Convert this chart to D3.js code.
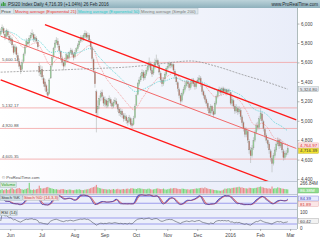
<!DOCTYPE html>
<html>
<head>
<meta charset="utf-8">
<script src="https://cdn.jsdelivr.net/npm/d3@7"></script>
<style>
  body { margin: 0; background: #fff; }
  svg { display: block; font-family: "Liberation Sans", Arial, sans-serif; }
</style>
</head>
<body>
<div id="chart"></div>
<script>
// PSI20 daily candles, 21 May 2015 - 26 Feb 2016
const closes = [5920,5960,5900,5860,5930,5880,5830,5850,5780,5700,5760,5680,5620,5560,5520,5600,5680,5760,5820,5790,
  5850,5880,5900,5840,5860,5820,5760,5500,5520,5450,5380,5350,5300,5260,5420,5560,5650,5740,5800,5830,
  5780,5720,5650,5600,5560,5620,5680,5640,5700,5720,5680,5650,5700,5740,5780,5820,5860,5840,5880,5900,
  5860,5880,5830,5760,5640,5520,5380,5080,5150,5230,5280,5250,5180,5220,5160,5200,5230,5180,5150,5190,
  5210,5170,5120,5080,5100,5060,5020,5050,5000,4980,5030,4960,4950,5020,5150,5260,5380,5420,5460,5500,
  5440,5480,5520,5560,5600,5520,5480,5560,5600,5620,5580,5500,5420,5380,5420,5480,5540,5560,5590,5570,
  5580,5520,5460,5400,5330,5260,5200,5280,5320,5360,5400,5380,5340,5380,5420,5380,5350,5400,5420,5440,
  5380,5300,5260,5220,5180,5130,5080,5150,5100,5060,5180,5250,5300,5320,5290,5330,5300,5320,5290,5310,
  5310,5180,5220,5150,5100,5140,5090,5120,5040,4980,4920,4860,4900,4800,4700,4640,4720,4800,4880,4950,
  4930,5020,5080,5000,4920,4850,4800,4760,4700,4620,4560,4640,4700,4760,4800,4740,4780,4700,4620,4660,
  4668,4716.39];
const opens = [5890,5930,5950,5890,5870,5920,5870,5820,5840,5770,5710,5750,5670,5610,5570,5530,5610,5690,5770,5810,
  5800,5850,5880,5890,5840,5850,5810,5560,5480,5530,5440,5400,5360,5290,5280,5440,5570,5660,5750,5800,
  5820,5770,5710,5640,5600,5570,5630,5670,5650,5700,5720,5680,5660,5710,5740,5780,5820,5860,5840,5870,
  5900,5860,5880,5820,5750,5630,5500,5300,5120,5160,5240,5290,5240,5170,5210,5150,5200,5220,5180,5150,
  5190,5200,5170,5120,5070,5100,5060,5020,5040,5000,4990,5020,4970,4960,5030,5160,5270,5380,5420,5460,
  5500,5440,5480,5520,5560,5590,5520,5490,5550,5600,5620,5570,5490,5420,5380,5430,5480,5540,5560,5590,
  5560,5580,5510,5450,5390,5320,5260,5210,5280,5320,5360,5400,5380,5340,5380,5420,5380,5350,5400,5420,
  5440,5370,5300,5260,5220,5180,5130,5080,5150,5100,5070,5180,5250,5300,5320,5290,5330,5300,5320,5290,
  5310,5290,5180,5210,5150,5100,5130,5090,5110,5040,4980,4920,4860,4890,4790,4700,4640,4720,4800,4880,
  4950,4930,5020,5070,4990,4910,4850,4800,4760,4690,4610,4560,4640,4700,4760,4800,4740,4770,4690,4620,
  4650,4670];
const highs = [5950,5990,5970,5910,5950,5940,5890,5880,5860,5790,5790,5770,5700,5640,5590,5630,5700,5780,5850,5840,
  5880,5910,5940,5910,5890,5870,5830,5600,5570,5560,5470,5430,5380,5330,5440,5580,5680,5760,5830,5860,
  5850,5790,5730,5670,5620,5650,5700,5690,5720,5750,5740,5700,5730,5760,5800,5840,5880,5880,5900,5930,
  5920,5910,5900,5840,5770,5650,5520,5320,5210,5260,5310,5320,5260,5250,5230,5230,5260,5240,5200,5220,
  5240,5230,5180,5140,5130,5120,5080,5080,5060,5030,5060,5040,5000,5050,5170,5280,5400,5450,5490,5530,
  5520,5510,5550,5590,5650,5610,5540,5590,5640,5680,5640,5590,5510,5450,5450,5500,5560,5590,5610,5600,
  5610,5590,5530,5470,5410,5340,5280,5300,5350,5390,5420,5420,5400,5410,5440,5440,5400,5420,5450,5470,
  5460,5390,5320,5280,5240,5200,5150,5170,5160,5120,5200,5270,5320,5350,5340,5350,5350,5340,5330,5330,
  5330,5300,5250,5230,5170,5170,5150,5150,5130,5060,5000,4940,4930,4910,4810,4730,4750,4830,4900,4980,
  4990,5050,5132,5090,5010,4930,4870,4820,4780,4710,4630,4670,4730,4790,4830,4820,4810,4790,4710,4690,
  4700,4740];
const lows = [5870,5910,5880,5830,5850,5860,5800,5790,5750,5680,5690,5650,5590,5530,5480,5510,5590,5670,5750,5760,
  5780,5830,5860,5810,5810,5790,5730,5460,5450,5420,5350,5310,5270,5244,5270,5430,5550,5640,5730,5780,
  5750,5690,5620,5570,5520,5550,5610,5610,5630,5680,5660,5620,5640,5690,5720,5760,5800,5810,5820,5850,
  5840,5840,5800,5730,5610,5490,5340,4880,5050,5120,5200,5210,5150,5140,5130,5130,5180,5150,5120,5130,
  5170,5140,5090,5050,5040,5030,4990,5000,4970,4950,4970,4940,4921,4950,5020,5150,5260,5360,5400,5440,
  5410,5420,5460,5500,5540,5490,5450,5470,5530,5580,5550,5470,5390,5350,5360,5410,5460,5520,5540,5540,
  5540,5490,5430,5370,5300,5230,5170,5190,5260,5300,5340,5350,5310,5320,5360,5350,5320,5330,5380,5400,
  5350,5270,5230,5190,5150,5100,5050,5060,5070,5030,5060,5160,5230,5280,5260,5270,5280,5280,5260,5270,
  5280,5160,5150,5120,5070,5080,5060,5070,5010,4950,4890,4830,4830,4770,4660,4565,4620,4700,4780,4860,
  4900,4910,5000,4970,4890,4820,4770,4720,4660,4580,4470,4540,4620,4680,4740,4710,4720,4670,4590,4600,
  4630,4650];
const volumes = [180,210,160,190,220,170,200,240,260,210,190,230,250,270,220,200,180,210,230,260,
  520,190,170,200,180,210,230,380,260,240,250,270,300,320,280,260,240,220,200,210,
  190,180,200,220,210,190,170,180,200,190,170,160,180,200,190,210,180,170,160,190,
  200,210,230,260,290,310,340,420,300,270,250,230,210,220,200,190,210,180,200,220,
  190,210,230,200,190,210,220,200,230,240,210,250,260,240,230,220,250,260,240,230,
  210,220,200,230,240,210,190,200,220,240,250,230,210,220,240,200,190,210,230,250,
  240,260,270,250,230,220,210,240,230,220,200,210,190,200,220,210,230,250,240,260,
  270,280,250,300,260,240,220,210,200,180,170,160,150,140,130,150,190,240,230,250,
  260,240,270,280,290,300,310,330,290,300,270,260,250,240,280,270,260,250,270,280,
  300,320,340,310,290,270,260,240,250,230,340,240,260,250,300,280,260,240,230,220,
  210,200];

// 200-day simple average, read at a few dates
const sma200Dates = ["2015-05-21","2015-07-01","2015-08-14","2015-09-25","2015-10-28","2015-11-24","2015-12-18","2016-01-12","2016-02-05","2016-02-26"];
const sma200Values = [5500,5515,5535,5555,5590,5615,5560,5480,5400,5324.8];

// trend channel (start date, start price, end date, end price)
const channelNames = ["upper","middle","lower"];
const channelFrom = [["2015-07-03",5990],["2015-05-21",5870],["2015-05-21",5420]];
const channelTo = [["2016-03-07",5010],["2016-03-07",4715],["2016-03-07",4265]];

// horizontal levels
const levels = [5600.14, 5132.17, 4920.88, 4605.35];
const priceTicks = [4400,4600,4800,5000,5200,5400,5600,5800,6000];
const monthNames = ["Jun","Jul","Aug","Sep","Oct","Nov","Dec","2016","Feb","Mar"];

const W = 320, H = 240, plotR = 297;
const pTop = 8, pBot = 181, vTop = 181, vBot = 194, sTop = 194, sBot = 209, rTop = 209, rBot = 229;

const parseDate = d3.timeParse("%Y-%m-%d");
const allDays = d3.timeDay.range(parseDate("2015-05-21"), parseDate("2016-03-08"))
  .filter(d => d.getDay() % 6 !== 0);
const days = allDays.slice(0, closes.length);
const candles = days.map((d, i) => ({date: d, o: opens[i], h: highs[i], l: lows[i], c: closes[i], v: volumes[i]}));

const x = d3.scaleBand().domain(allDays).range([0, plotR]).paddingInner(0.22).paddingOuter(0.1);
const cx = d => x(d) + x.bandwidth() / 2;
const y = d3.scaleLinear().domain([4380, 6160]).range([pBot, pTop]);
const yVol = d3.scaleLinear().domain([0, 560]).range([vBot - 0.5, vTop + 1]);
const yStoch = d3.scaleLinear().domain([0, 100]).range([sBot - 3.5, sTop + 0.3]);
const yRsi = d3.scaleLinear().domain([0, 100]).range([rBot - 0.5, rTop + 4.5]);

// indicators
function ema(vals, n) {
  const k = 2 / (n + 1), out = [];
  vals.forEach((v, i) => out.push(i ? v * k + out[i - 1] * (1 - k) : v));
  return out;
}
function sma(vals, n) {
  return vals.map((v, i) => d3.mean(vals.slice(Math.max(0, i - n + 1), i + 1)));
}
const ema21 = ema(closes, 21), ema50 = ema(closes, 50);
const rawK = closes.map((c, i) => {
  const j = Math.max(0, i - 13);
  const hh = d3.max(highs.slice(j, i + 1)), ll = d3.min(lows.slice(j, i + 1));
  return hh === ll ? 50 : 100 * (c - ll) / (hh - ll);
});
const stochK = sma(rawK, 3), stochD = sma(stochK, 3);
const rsi = [];
let ag = 0, al = 0;
closes.forEach((c, i) => {
  if (i === 0) { rsi.push(50); return; }
  const ch = c - closes[i - 1];
  const g = Math.max(ch, 0), l = Math.max(-ch, 0);
  if (i === 1) { ag = g; al = l; } else { ag = (ag * 13 + g) / 14; al = (al * 13 + l) / 14; }
  rsi.push(al === 0 ? 100 : 100 - 100 / (1 + ag / al));
});

const svg = d3.select("#chart").append("svg").attr("width", W).attr("height", H);
const defs = svg.append("defs");

const bgGrad = defs.append("linearGradient").attr("id", "bg").attr("x1", 0).attr("x2", 1).attr("y1", 0).attr("y2", 0);
bgGrad.append("stop").attr("offset", 0).attr("stop-color", "#ffffff");
bgGrad.append("stop").attr("offset", 1).attr("stop-color", "#e9edf9");
const hdGrad = defs.append("linearGradient").attr("id", "hd").attr("x1", 0).attr("x2", 0).attr("y1", 0).attr("y2", 1);
hdGrad.append("stop").attr("offset", 0).attr("stop-color", "#bcd3da");
hdGrad.append("stop").attr("offset", 1).attr("stop-color", "#8eb0bc");

defs.append("clipPath").attr("id", "clipP").append("rect").attr("x", 0).attr("y", pTop).attr("width", plotR).attr("height", pBot - pTop);

// panel backgrounds
svg.append("rect").attr("width", W).attr("height", H).attr("fill", "#fff");
svg.append("rect").attr("x", 0).attr("y", pTop).attr("width", plotR).attr("height", pBot - pTop).attr("fill", "url(#bg)");
[[vTop, vBot], [sTop, sBot], [rTop, rBot]].forEach(([a, b]) => {
  svg.append("rect").attr("x", 0).attr("y", a).attr("width", plotR).attr("height", b - a).attr("fill", "#eceffa");
});
[pBot, vBot, sBot, rBot].forEach(v => {
  svg.append("line").attr("x1", 0).attr("x2", plotR).attr("y1", v + 0.5).attr("y2", v + 0.5).attr("stroke", "#b4bccc").attr("stroke-width", 0.8);
});

// price panel
const gP = svg.append("g").attr("clip-path", "url(#clipP)");

gP.selectAll(".lvl").data(levels).join("line")
  .attr("x1", 0).attr("x2", plotR).attr("y1", d => y(d)).attr("y2", d => y(d))
  .attr("stroke", "#f2a2a2").attr("stroke-width", 0.8);
gP.selectAll(".lvlt").data(levels).join("text")
  .attr("x", 2).attr("y", d => y(d) - 1.2)
  .attr("font-size", 4.3).attr("fill", "#555")
  .text(d => d3.format(",.2f")(d));

// candles
const gC = gP.append("g");
gC.selectAll(".wick").data(candles).join("line")
  .attr("x1", d => cx(d.date)).attr("x2", d => cx(d.date))
  .attr("y1", d => y(d.h)).attr("y2", d => y(d.l))
  .attr("stroke", "#a4a8a4").attr("stroke-width", 0.5);
gC.selectAll(".body").data(candles).join("rect")
  .attr("x", d => x(d.date)).attr("width", x.bandwidth())
  .attr("y", d => y(Math.max(d.o, d.c)))
  .attr("height", d => Math.max(0.6, Math.abs(y(d.o) - y(d.c))))
  .attr("fill", d => d.c >= d.o ? "#8fd18f" : "#b86a5a")
  .attr("stroke", "#9aa09a").attr("stroke-width", 0.3);

// moving averages
const lineP = vals => d3.line().x((v, i) => cx(days[i])).y(v => y(v))(vals);
gP.append("path").attr("d", lineP(ema21)).attr("fill", "none")
  .attr("stroke", "#f08080").attr("stroke-width", 0.7).attr("stroke-dasharray", "1,1");
gP.append("path").attr("d", lineP(ema50)).attr("fill", "none")
  .attr("stroke", "#35cccc").attr("stroke-width", 0.7).attr("stroke-dasharray", "1,1");
const smaPts = sma200Dates.map((d, i) => [parseDate(d), sma200Values[i]]);
gP.append("path")
  .attr("d", d3.line().curve(d3.curveMonotoneX).x(d => cx(d3.timeDay.floor(d[0]))).y(d => y(d[1]))(smaPts))
  .attr("fill", "none").attr("stroke", "#8a8a8a").attr("stroke-width", 0.7).attr("stroke-dasharray", "2,1.2");

// channel lines
channelNames.forEach((n, i) => {
  const a = channelFrom[i], b = channelTo[i];
  gP.append("line")
    .attr("x1", cx(parseDate(a[0]))).attr("y1", y(a[1]))
    .attr("x2", cx(parseDate(b[0]))).attr("y2", y(b[1]))
    .attr("stroke", n === "middle" ? "#f25858" : "#ff1a1a")
    .attr("stroke-width", n === "middle" ? 0.9 : 1.3);
});

// volume
svg.append("g").selectAll("rect").data(candles).join("rect")
  .attr("x", d => x(d.date)).attr("width", x.bandwidth())
  .attr("y", d => yVol(d.v)).attr("height", d => yVol(0) - yVol(d.v))
  .attr("fill", d => d.c >= d.o ? "#79d679" : "#ea8a8a");

// stochastic
const sx = (v, i) => cx(days[i]);
[80, 20].forEach(v => svg.append("line").attr("x1", 0).attr("x2", plotR)
  .attr("y1", yStoch(v)).attr("y2", yStoch(v)).attr("stroke", "#7b7be6").attr("stroke-width", 0.7));
defs.append("clipPath").attr("id", "kUp").append("path")
  .attr("d", d3.area().x(sx).y0(sTop).y1(v => yStoch(v))(stochD));
defs.append("clipPath").attr("id", "kDn").append("path")
  .attr("d", d3.area().x(sx).y0(sBot).y1(v => yStoch(v))(stochD));
const kdArea = d3.area().x((v, i) => cx(days[i])).y0((v, i) => yStoch(stochD[i])).y1(v => yStoch(v));
svg.append("path").attr("d", kdArea(stochK)).attr("fill", "#6f6fd8").attr("clip-path", "url(#kUp)");
svg.append("path").attr("d", kdArea(stochK)).attr("fill", "#eaa2a2").attr("clip-path", "url(#kDn)");
svg.append("path").attr("d", d3.line().x(sx).y(v => yStoch(v))(stochD)).attr("fill", "none").attr("stroke", "#d24a4a").attr("stroke-width", 0.7);
svg.append("path").attr("d", d3.line().x(sx).y(v => yStoch(v))(stochK)).attr("fill", "none").attr("stroke", "#3535b0").attr("stroke-width", 0.7);

// RSI
[70, 30].forEach(v => svg.append("line").attr("x1", 0).attr("x2", plotR)
  .attr("y1", yRsi(v)).attr("y2", yRsi(v)).attr("stroke", "#7b7be6").attr("stroke-width", 0.7));
svg.append("path").attr("d", d3.line().x(sx).y(v => yRsi(v))(rsi)).attr("fill", "none").attr("stroke", "#505560").attr("stroke-width", 0.6);

// right axis
svg.append("line").attr("x1", plotR + 0.5).attr("x2", plotR + 0.5).attr("y1", pTop).attr("y2", rBot)
  .attr("stroke", "#9aa").attr("stroke-width", 0.8);
const axP = svg.append("g").attr("transform", `translate(${plotR + 0.5},0)`)
  .call(d3.axisRight(y).tickValues(priceTicks).tickFormat(d3.format(",")).tickSize(2).tickPadding(1.5));
axP.select(".domain").remove();
axP.selectAll("line").attr("stroke", "#888").attr("stroke-width", 0.6);
axP.selectAll("text").attr("font-size", 4.6).attr("fill", "#444").attr("font-family", "Liberation Sans, Arial, sans-serif");

// right-side value boxes
const boxes = [
  {t: "5,324.80", yy: y(5324.8), fill: "#e6e8ee", stroke: "#9aa", col: "#555"},
  {t: "4,764.97", yy: 145.4, fill: "#fbe3e3", stroke: "#e9a0a0", col: "#e03030"},
  {t: "4,716.39", yy: 150.8, fill: "#f2e230", stroke: "#b8a820", col: "#333"},
  {t: "86.38M", yy: 190.5, fill: "#8fdc8f", stroke: "#5a5", col: "#fff"},
  {t: "84.39", yy: 198.5, fill: "#e8eaff", stroke: "#7070d0", col: "#3535b0"},
  {t: "81.89", yy: 204, fill: "#fbe6e6", stroke: "#e0a0a0", col: "#d03a3a"},
  {t: "60.42", yy: 221, fill: "#f2f2f2", stroke: "#999", col: "#444"}
];
const gb = svg.append("g").selectAll("g").data(boxes).join("g");
gb.append("rect").attr("x", plotR + 1.5).attr("y", d => d.yy - 2.5).attr("width", 20).attr("height", 5)
  .attr("fill", d => d.fill).attr("stroke", d => d.stroke).attr("stroke-width", 0.4);
gb.append("text").attr("x", plotR + 3).attr("y", d => d.yy + 1.5).attr("font-size", 4.4).attr("fill", d => d.col).text(d => d.t);

const sideText = [["266.84M", 185], ["100", 213.5], ["0", 229.5]];
svg.append("g").selectAll("text").data(sideText).join("text")
  .attr("x", plotR + 3).attr("y", d => d[1]).attr("font-size", 4.6).attr("fill", "#444").text(d => d[0]);

// x axis: first trading day of each month
const monthStarts = d3.timeMonth.range(parseDate("2015-06-01"), parseDate("2016-03-02"))
  .map(m => allDays.find(d => d >= m));
svg.append("g").selectAll("line").data(monthStarts).join("line")
  .attr("x1", d => cx(d)).attr("x2", d => cx(d)).attr("y1", rBot).attr("y2", rBot + 2)
  .attr("stroke", "#888").attr("stroke-width", 0.6);
svg.append("g").selectAll("text").data(monthStarts).join("text")
  .attr("x", d => cx(d)).attr("y", 237).attr("text-anchor", "middle")
  .attr("font-size", 4.8).attr("fill", "#444").text((d, i) => monthNames[i]);

// header
svg.append("rect").attr("x", 0).attr("y", 0).attr("width", W).attr("height", pTop).attr("fill", "url(#hd)");
[[1.2, 3.5, 2.5], [2.8, 2, 4], [4.4, 3, 3]].forEach(([bx, by, bh]) =>
  svg.append("rect").attr("x", bx).attr("y", by).attr("width", 1.1).attr("height", bh).attr("fill", "#2e9a2e"));
svg.append("text").attr("x", 8).attr("y", 5.6).attr("font-size", 4.5).attr("fill", "#1c2a30")
  .text("PSI20 Index   Daily   4,716.39 (+1.04%)   26 Feb 2016");
svg.append("text").attr("x", 318).attr("y", 5.6).attr("text-anchor", "end").attr("font-size", 4.5).attr("fill", "#1c2a30")
  .text("www.ProRealTime.com");

// legend tags
function tag(x0, y0, txt, col, bg, w) {
  svg.append("rect").attr("x", x0).attr("y", y0).attr("width", w).attr("height", 5.4)
    .attr("fill", bg).attr("stroke", "#9fb3bc").attr("stroke-width", 0.4);
  svg.append("text").attr("x", x0 + 1).attr("y", y0 + 4.1).attr("font-size", 4.2).attr("fill", col).text(txt);
}
tag(0.3, 8.6, "Price", "#333", "#dfe8ec", 13);
tag(14, 8.6, "Moving average (Exponential 21)", "#e83030", "#dfe8ec", 62);
tag(77, 8.6, "Moving average (Exponential 50)", "#25c8c8", "#c8dde4", 62);
tag(140, 8.6, "Moving average (Simple 200)", "#777", "#dfe8ec", 58);
svg.append("text").attr("x", 2).attr("y", 179).attr("font-size", 4.2).attr("fill", "#555").text("© ProRealTime.com");
tag(0.3, 182, "Volume", "#2a9a2a", "#d8ecdc", 16);
tag(0.3, 195, "Stoch %K", "#333", "#cfe0e6", 22);
tag(23, 195, "Stoch %D (14,3,3)", "#d03a3a", "#f2e2e2", 36);
tag(0.3, 210, "RSI (14)", "#333", "#dfe8ec", 17);
</script>
</body>
</html>
